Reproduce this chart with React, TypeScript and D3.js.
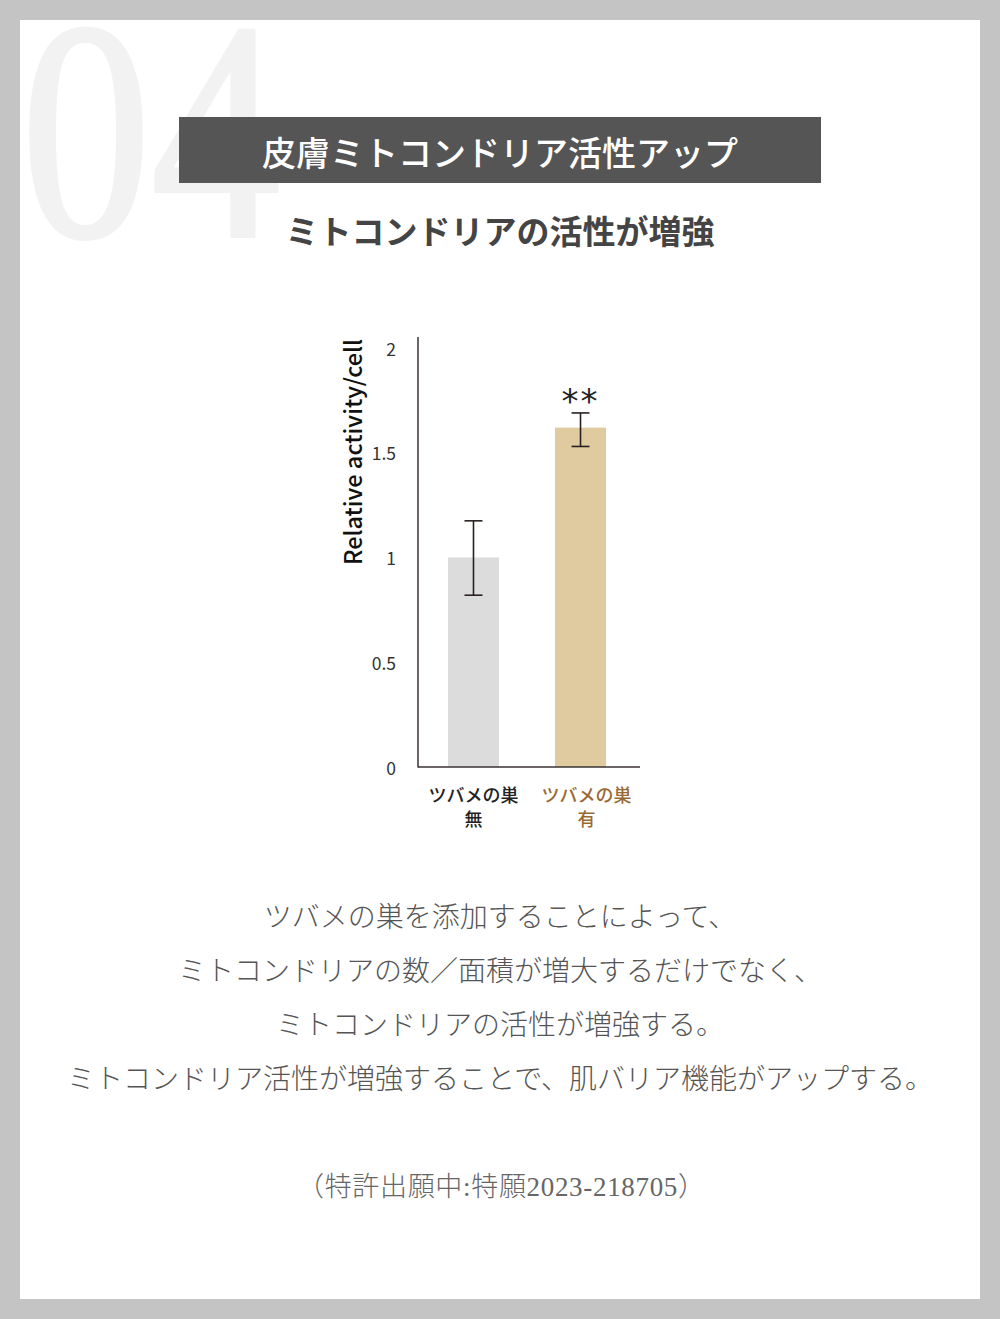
import React from "react";
import * as d3 from "d3";

const categories = ["無", "有"];
const categoryTop = ["ツバメの巣", "ツバメの巣"];
const values = [1.0, 1.62];
const errHigh = [1.175, 1.69];
const errLow = [0.82, 1.53];
const yTicks = [0, 0.5, 1, 1.5, 2];
const yTickLabels = ["0", "0.5", "1", "1.5", "2"];
const barColors = ["#dcdcdc", "#dfcb9f"];
const labelColors = ["#222222", "#9a6a35"];
const bodyLines = [
  "ツバメの巣を添加することによって、",
  "ミトコンドリアの数／面積が増大するだけでなく、",
  "ミトコンドリアの活性が増強する。",
  "ミトコンドリア活性が増強することで、肌バリア機能がアップする。",
];
const patent = "（特許出願中:特願2023-218705）";
const title = "皮膚ミトコンドリア活性アップ";
const subtitle = "ミトコンドリアの活性が増強";

const W = 1000;
const H = 1319;
const sans = "'Noto Sans CJK JP', 'Noto Sans', sans-serif";
const serifMix = "'Liberation Serif', 'Noto Sans CJK JP', serif";

export default function App() {
  const y = d3.scaleLinear().domain([0, 2]).range([767, 348]);
  const x = d3
    .scaleBand<string>()
    .domain(categories)
    .range([418, 636])
    .paddingInner(0.523)
    .paddingOuter(0.28);
  const bw = x.bandwidth();

  return (
    <svg
      width={W}
      height={H}
      style={{ position: "absolute", left: 0, top: 0 }}
      xmlns="http://www.w3.org/2000/svg"
    >
      <rect x={0} y={0} width={W} height={H} fill="#c4c4c4" />
      <rect x={20} y={20} width={960} height={1279} fill="#ffffff" />

      {/* big number */}
      <text
        x={21}
        y={236}
        fontFamily="'Liberation Serif', serif"
        fontSize={312}
        fill="#f2f2f2"
        stroke="#f2f2f2"
        strokeWidth={4}
        textLength={260}
        lengthAdjust="spacingAndGlyphs"
      >
        04
      </text>

      {/* banner */}
      <rect x={179} y={117} width={642} height={66} fill="#555555" />
      <text
        x={500}
        y={151}
        textAnchor="middle"
        dominantBaseline="central"
        fontFamily={sans}
        fontSize={34}
        fontWeight={500}
        fill="#ffffff"
      >
        {title}
      </text>

      <text
        x={500}
        y={230}
        textAnchor="middle"
        dominantBaseline="central"
        fontFamily={sans}
        fontSize={33}
        fontWeight={700}
        fill="#444444"
      >
        {subtitle}
      </text>

      {/* chart */}
      <g>
        {categories.map((c, i) => (
          <rect
            key={c}
            x={x(c)}
            y={y(values[i])}
            width={bw}
            height={y(0) - y(values[i])}
            fill={barColors[i]}
          />
        ))}
        {categories.map((c, i) => {
          const cx = (x(c) as number) + bw / 2;
          return (
            <g key={"e" + c} stroke="#2a2020" strokeWidth={1.6}>
              <line x1={cx} x2={cx} y1={y(errHigh[i])} y2={y(errLow[i])} />
              <line x1={cx - 9} x2={cx + 9} y1={y(errHigh[i])} y2={y(errHigh[i])} />
              <line x1={cx - 9} x2={cx + 9} y1={y(errLow[i])} y2={y(errLow[i])} />
            </g>
          );
        })}
        <text
          x={(x(categories[1]) as number) + bw / 2}
          y={y(errHigh[1])}
          textAnchor="middle"
          fontFamily="'DejaVu Sans', sans-serif"
          fontSize={34}
          letterSpacing={2}
          fill="#222"
        >
          **
        </text>

        <line x1={418} x2={418} y1={337} y2={767.5} stroke="#3a3232" strokeWidth={1.5} />
        <line x1={418} x2={640} y1={767} y2={767} stroke="#3a3232" strokeWidth={1.5} />

        {yTicks.map((t, i) => (
          <text
            key={t}
            x={396}
            y={y(t)}
            textAnchor="end"
            dominantBaseline="central"
            fontFamily={sans}
            fontSize={17.5}
            fill="#333"
          >
            {yTickLabels[i]}
          </text>
        ))}

        <text
          transform="translate(352,452) rotate(-90)"
          textAnchor="middle"
          dominantBaseline="central"
          fontFamily={sans}
          fontSize={23.5}
          fontWeight={500}
          fill="#111"
        >
          Relative activity/cell
        </text>

        {categories.map((c, i) => {
          const cx = (x(c) as number) + bw / 2 + i * 6;
          return (
            <g key={"l" + c} fontFamily={sans} fontSize={18} fontWeight={500} fill={labelColors[i]} textAnchor="middle">
              <text x={cx} y={794} dominantBaseline="central">
                {categoryTop[i]}
              </text>
              <text x={cx} y={818} dominantBaseline="central">
                {c}
              </text>
            </g>
          );
        })}
      </g>

      {/* body text */}
      {bodyLines.map((l, i) => (
        <text
          key={i}
          x={500}
          y={915 + i * 54}
          textAnchor="middle"
          dominantBaseline="central"
          fontFamily={sans}
          fontSize={28}
          fontWeight={300}
          fill="#555"
        >
          {l}
        </text>
      ))}

      <text
        x={297}
        y={1187}
        dominantBaseline="central"
        fontFamily={serifMix}
        fontSize={27}
        fontWeight={300}
        fill="#666"
        textLength={408}
        lengthAdjust="spacing"
      >
        {patent}
      </text>
    </svg>
  );
}
